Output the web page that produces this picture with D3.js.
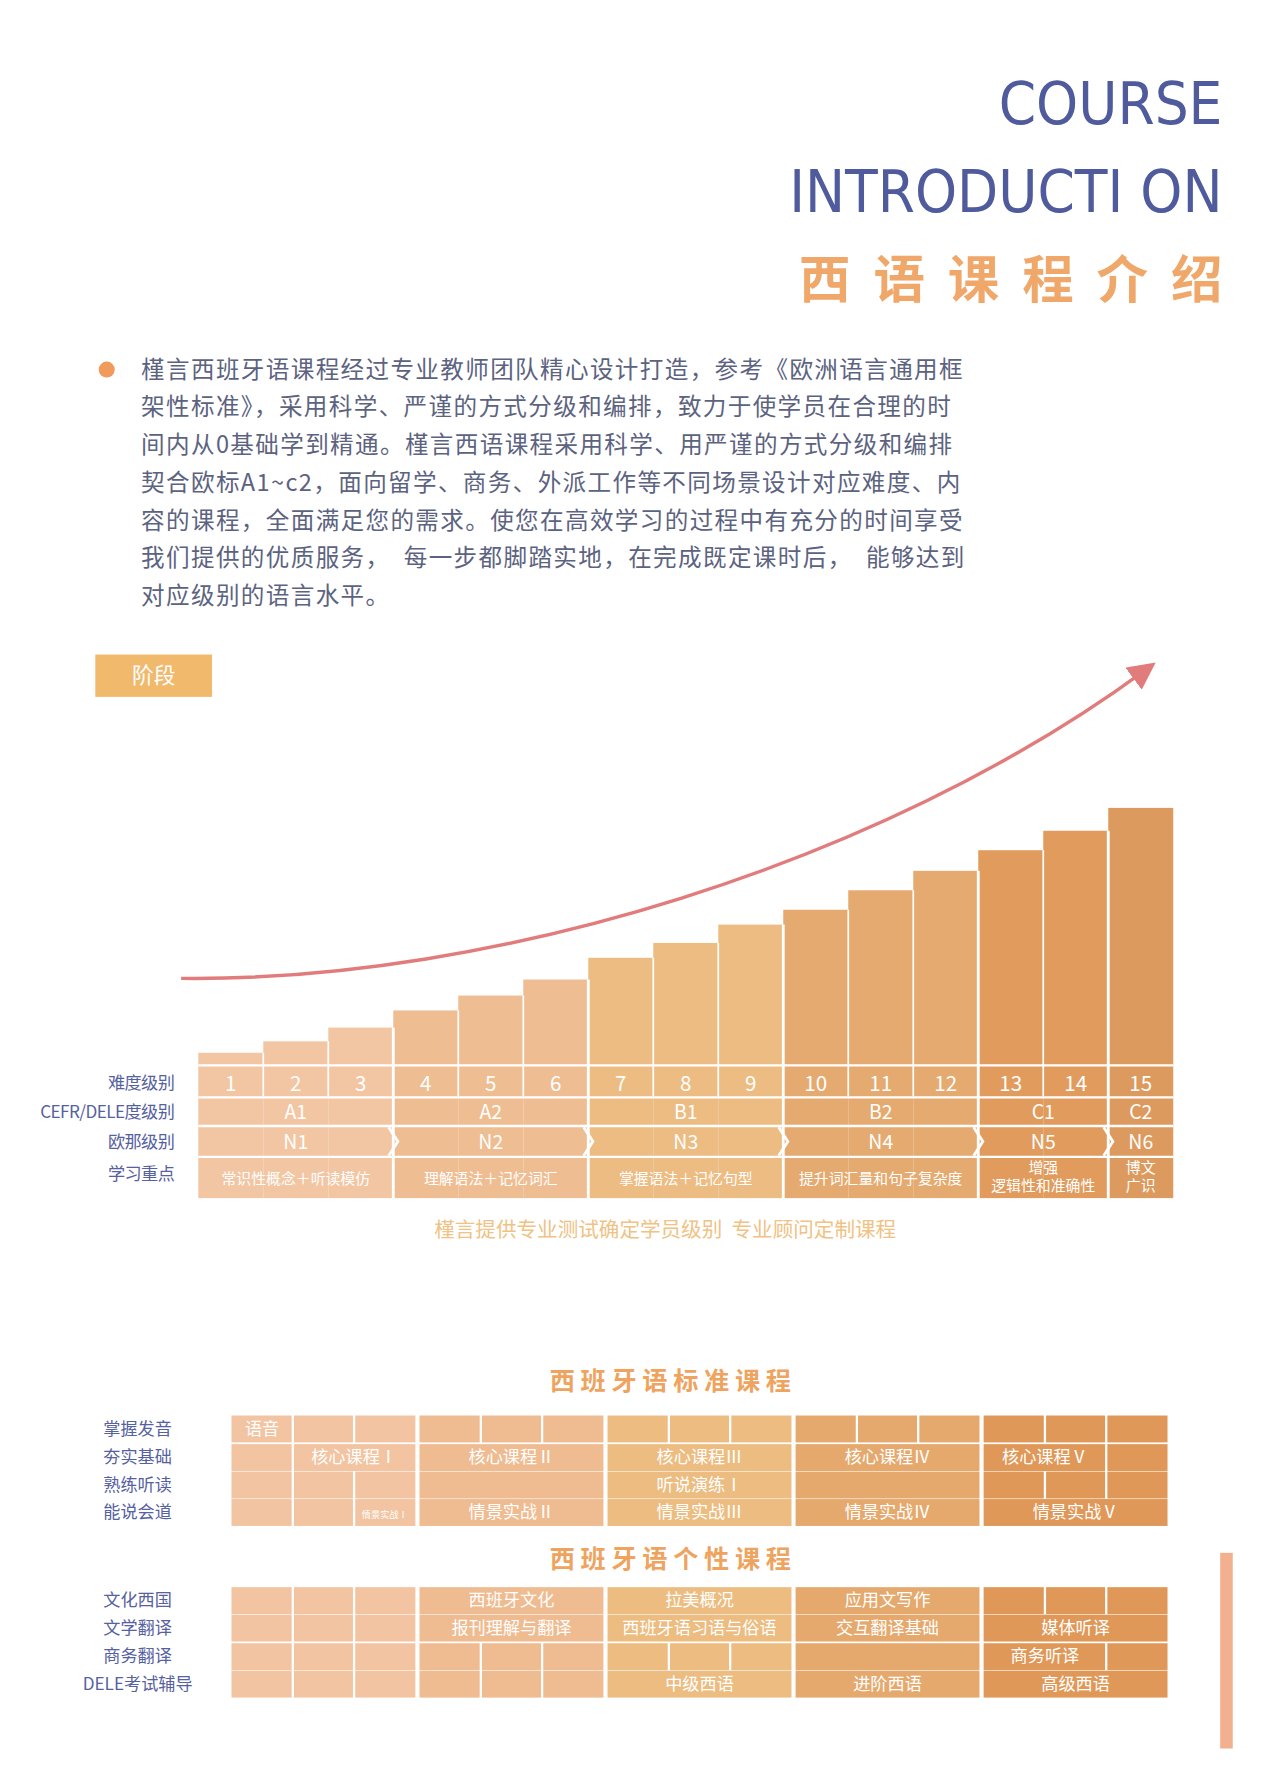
<!DOCTYPE html>
<html><head><meta charset="utf-8">
<script src="https://cdn.jsdelivr.net/npm/d3@7"></script>
<style>body{margin:0;background:#fff}</style></head>
<body><svg id="c" width="1280" height="1792" viewBox="0 0 1118 1566"></svg>
<script>
const titleLines = ["COURSE","INTRODUCTI ON"];
const titleCn = "西语课程介绍";
const paragraph = [
 "槿言西班牙语课程经过专业教师团队精心设计打造，参考《欧洲语言通用框",
 "架性标准》，采用科学、严谨的方式分级和编排，致力于使学员在合理的时",
 "间内从0基础学到精通。槿言西语课程采用科学、用严谨的方式分级和编排",
 "契合欧标A1~c2，面向留学、商务、外派工作等不同场景设计对应难度、内",
 "容的课程，全面满足您的需求。使您在高效学习的过程中有充分的时间享受",
 "我们提供的优质服务，  每一步都脚踏实地，在完成既定课时后，  能够达到",
 "对应级别的语言水平。"];
const levels = [1,2,3,4,5,6,7,8,9,10,11,12,13,14,15];
const difficulty = [10,20,32,47,60,74,93,106,122,135,152,169,187,204,224];
const levelGroup = [0,0,0,1,1,1,2,2,2,3,3,3,4,4,5];
const cefr = ["A1","A2","B1","B2","C1","C2"];
const ona = ["N1","N2","N3","N4","N5","N6"];
const focus = [["常识性概念＋听读模仿"],["理解语法＋记忆词汇"],["掌握语法＋记忆句型"],["提升词汇量和句子复杂度"],["增强","逻辑性和准确性"],["博文","广识"]];
const rowLabelsTop = ["难度级别","CEFR/DELE度级别","欧那级别","学习重点"];
const groupColors = ["#f3c6a3","#efbd92","#ecbc82","#e5aa6f","#e09b5d","#dd9a5e"];
const stdRows = ["掌握发音","夯实基础","熟练听读","能说会道"];
const stdCells = [ // [row, group, colStart, colEnd, label]
 [0,0,0,0,"语音"],[0,0,1,1,""],[0,0,2,2,""],[0,1,0,0,""],[0,1,1,1,""],[0,1,2,2,""],[0,2,0,0,""],[0,2,1,1,""],[0,2,2,2,""],[0,3,0,0,""],[0,3,1,1,""],[0,3,2,2,""],[0,4,0,0,""],[0,4,1,1,""],[0,4,2,2,""],
 [1,0,0,0,""],[1,0,1,2,"核心课程Ⅰ"],[1,1,0,2,"核心课程Ⅱ"],[1,2,0,2,"核心课程Ⅲ"],[1,3,0,2,"核心课程Ⅳ"],[1,4,0,1,"核心课程Ⅴ"],[1,4,2,2,""],
 [2,0,0,0,""],[2,0,1,1,""],[2,0,2,2,""],[2,1,0,2,""],[2,2,0,2,"听说演练Ⅰ"],[2,3,0,2,""],[2,4,0,0,""],[2,4,1,1,""],[2,4,2,2,""],
 [3,0,0,0,""],[3,0,1,1,""],[3,0,2,2,"情景实战Ⅰ"],[3,1,0,2,"情景实战Ⅱ"],[3,2,0,2,"情景实战Ⅲ"],[3,3,0,2,"情景实战Ⅳ"],[3,4,0,2,"情景实战Ⅴ"]];
const perRows = ["文化西国","文学翻译","商务翻译","DELE考试辅导"];
const perCells = [
 [0,0,0,0,""],[0,0,1,1,""],[0,0,2,2,""],[0,1,0,2,"西班牙文化"],[0,2,0,2,"拉美概况"],[0,3,0,2,"应用文写作"],[0,4,0,0,""],[0,4,1,1,""],[0,4,2,2,""],
 [1,0,0,0,""],[1,0,1,1,""],[1,0,2,2,""],[1,1,0,2,"报刊理解与翻译"],[1,2,0,2,"西班牙语习语与俗语"],[1,3,0,2,"交互翻译基础"],[1,4,0,2,"媒体听译"],
 [2,0,0,0,""],[2,0,1,1,""],[2,0,2,2,""],[2,1,0,0,""],[2,1,1,1,""],[2,1,2,2,""],[2,2,0,0,""],[2,2,1,1,""],[2,2,2,2,""],[2,3,0,2,""],[2,4,0,1,"商务听译"],[2,4,2,2,""],
 [3,0,0,0,""],[3,0,1,1,""],[3,0,2,2,""],[3,1,0,0,""],[3,1,1,1,""],[3,1,2,2,""],[3,2,0,2,"中级西语"],[3,3,0,2,"进阶西语"],[3,4,0,2,"高级西语"]];
const gridColors = ["#f2c4a1","#efbb90","#ecbc80","#e5a96e","#df9858"];

const svg = d3.select("#c");
const CN = "'Noto Sans CJK SC','Noto Sans',sans-serif";
const blue = "#56619f";

svg.selectAll("text.t").data(titleLines).join("text")
 .attr("x",1068).attr("y",(d,i)=>108+i*77).attr("text-anchor","end")
 .attr("font-family","'DejaVu Sans Condensed','DejaVu Sans',sans-serif").attr("font-size",52)
 .attr("fill","#4f5b9c").text(d=>d);
svg.append("text").attr("x",1068+20).attr("y",260).attr("text-anchor","end")
 .attr("font-family",CN).attr("font-weight",700).attr("font-size",45).attr("letter-spacing",20)
 .attr("fill","#f0a86a").text(titleCn);

svg.append("circle").attr("cx",93).attr("cy",323).attr("r",7).attr("fill","#f09a5c");
svg.selectAll("text.p").data(paragraph).join("text")
 .attr("x",123).attr("y",(d,i)=>330+i*33).attr("font-family",CN).attr("font-size",20.6).attr("letter-spacing",1.2)
 .attr("fill","#5c6380").style("white-space","pre").text(d=>d);

svg.append("rect").attr("x",83).attr("y",572).attr("width",102).attr("height",37).attr("fill","#f0b96c");
svg.append("text").attr("x",134).attr("y",597).attr("text-anchor","middle").attr("font-family",CN)
 .attr("font-size",19).attr("fill","#fff").text("阶段");

const defs = svg.append("defs");
defs.append("marker").attr("id","ah").attr("viewBox","0 0 10 10").attr("refX",5).attr("refY",5)
 .attr("markerWidth",8).attr("markerHeight",8).attr("orient","auto-start-reverse")
 .append("path").attr("d","M0,0L10,5L0,10z").attr("fill","#e27c7c");
svg.append("path").attr("d","M158,855 C430,858 770,755 1000,586").attr("fill","none")
 .attr("stroke","#e27c7c").attr("stroke-width",3).attr("marker-end","url(#ah)");

const x = d3.scaleBand().domain(levels).range([173,1025]).paddingInner(0);
const y = d3.scaleLinear().domain([0,250]).range([930,680]);
const bottom = 1047;
svg.selectAll("rect.bar").data(levels).join("rect")
 .attr("x",d=>x(d)).attr("width",x.bandwidth())
 .attr("y",(d,i)=>y(difficulty[i])).attr("height",(d,i)=>bottom-y(difficulty[i]))
 .attr("fill",(d,i)=>groupColors[levelGroup[i]]);
svg.selectAll("line.vs").data(levels.slice(1)).join("line")
 .attr("x1",d=>x(d)).attr("x2",d=>x(d))
 .attr("y1",(d,i)=>y(difficulty[i])).attr("y2",(d,i)=> levelGroup[i]!==levelGroup[i+1]?bottom:958)
 .attr("stroke","#fff").attr("stroke-width",(d,i)=>levelGroup[i]!==levelGroup[i+1]?2.5:1.5);
[931,959,984,1011].forEach(yy=>svg.append("line").attr("x1",173).attr("x2",1025).attr("y1",yy).attr("y2",yy).attr("stroke","#fff").attr("stroke-width",2));
const gStart = cefr.map((c,g)=>x(levels[levelGroup.indexOf(g)]));
const gEnd = cefr.map((c,g)=>x(levels[levelGroup.lastIndexOf(g)])+x.bandwidth());
gEnd.slice(0,5).forEach(e=>{
  svg.append("path").attr("d",`M${e-4},985 L${e+4},997.5 L${e-4},1010`).attr("fill","none").attr("stroke","#fff").attr("stroke-width",2.5);
});
const wt = (sel)=>sel.attr("fill","#fff").attr("font-family",CN).attr("text-anchor","middle");
svg.selectAll("text.num").data(levels).join("text").call(wt)
 .attr("x",d=>x(d)+x.bandwidth()/2).attr("y",953).attr("font-size",18).text(d=>d);
svg.selectAll("text.cefr").data(cefr).join("text").call(wt)
 .attr("x",(d,i)=>(gStart[i]+gEnd[i])/2).attr("y",978).attr("font-size",17).text(d=>d);
svg.selectAll("text.ona").data(ona).join("text").call(wt)
 .attr("x",(d,i)=>(gStart[i]+gEnd[i])/2).attr("y",1004).attr("font-size",17).text(d=>d);
focus.forEach((lines,i)=>{
  lines.forEach((l,j)=>{
    svg.append("text").call(wt).attr("x",(gStart[i]+gEnd[i])/2)
     .attr("y",lines.length===1?1035:1025+j*16).attr("font-size",13).text(l);
  });
});
svg.selectAll("text.rl").data(rowLabelsTop).join("text")
 .attr("x",152).attr("y",(d,i)=>[952,977,1003,1031][i]).attr("text-anchor","end")
 .attr("font-family",CN).attr("font-size",15).attr("fill",blue).attr("letter-spacing",-0.5).text(d=>d);
svg.append("text").attr("x",581).attr("y",1081).attr("text-anchor","middle").attr("font-family",CN)
 .attr("font-size",18).attr("fill","#f0c284").text("槿言提供专业测试确定学员级别  专业顾问定制课程").style("white-space","pre");

const gx = d3.scaleBand().domain(d3.range(5)).range([202,1020]).paddingInner(0.022);
function grid(title, titleY, rows, cells, rowYs){
  svg.append("text").attr("x",588).attr("y",titleY).attr("text-anchor","middle").attr("font-family",CN)
   .attr("font-weight",700).attr("font-size",22).attr("letter-spacing",5).attr("fill","#eea35e").text(title);
  const rh = 23.5;
  const sub = gx.bandwidth()/3;
  svg.selectAll(null).data(cells).join("rect")
   .attr("x",d=>gx(d[1])+d[2]*sub+(d[2]>0?1:0))
   .attr("width",d=>(d[3]-d[2]+1)*sub-(d[2]>0?1:0)-(d[3]<2?1:0))
   .attr("y",d=>rowYs[d[0]]).attr("height",rh).attr("fill",d=>gridColors[d[1]]);
  svg.selectAll(null).data(cells.filter(d=>d[4])).join("text").call(wt)
   .attr("x",d=>gx(d[1])+(d[2]+d[3]+1)/2*sub).attr("y",d=>rowYs[d[0]]+rh/2+5)
   .attr("font-size",d=>d[2]===d[3]&&d[4].length>2?8:15).text(d=>d[4]);
  svg.selectAll(null).data(rows).join("text").attr("x",120).attr("y",(d,i)=>rowYs[i]+rh/2+5)
   .attr("text-anchor","middle").attr("font-family",CN).attr("font-size",15).attr("fill",blue).text(d=>d);
}
grid("西班牙语标准课程",1215,stdRows,stdCells,[1237,1262,1286,1310]);
grid("西班牙语个性课程",1370,perRows,perCells,[1387,1411,1436,1460]);
svg.append("rect").attr("x",1066).attr("y",1357).attr("width",11).attr("height",171).attr("fill","#f2b08e");
</script></body></html>
